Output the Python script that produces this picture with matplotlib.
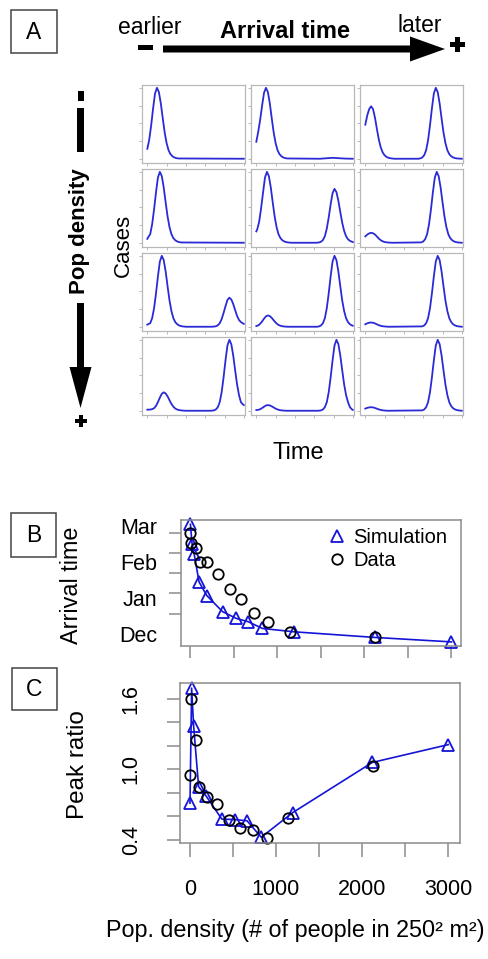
import matplotlib
matplotlib.use('Agg')
import matplotlib.pyplot as plt
from matplotlib.lines import Line2D
from matplotlib.patches import Rectangle, FancyArrow

plt.rcParams['font.family'] = ['Liberation Sans', 'DejaVu Sans']

W, H = 489, 959

# ---- panel A: epidemic curves, time scaled 0-1, cases scaled to tallest peak
# row = population density (low -> high), column = arrival time (early -> late)
t_11 = [0, .02, .04, .06, .08, .10, .12, .14, .16, .18, .20, .22, .24, .26, .28, .30, .32, 1]
c_11 = [.14, .27, .47, .71, .92, 1, .94, .78, .57, .37, .22, .12, .065, .035, .018, .009, .004, 0]

t_12 = [0, .02, .04, .06, .08, .10, .12, .14, .16, .18, .20, .22, .24, .26, .28, .30, .32,
        .66, .72, .79, .86, .93, 1]
c_12 = [.24, .38, .55, .75, .93, 1, .94, .78, .57, .37, .22, .12, .065, .035, .018, .009, .004,
        0, .006, .013, .007, .002, 0]

t_13 = [0, .02, .04, .06, .08, .10, .12, .14, .16, .18, .20, .22, .24, .26, .28, .30, .55,
        .57, .59, .61, .63, .65, .67, .69, .71, .73, .75, .77, .79, .81, .83, .85, .87, .89,
        .91, .93, .95, 1]
c_13 = [.48, .61, .70, .74, .70, .58, .42, .27, .16, .089, .048, .026, .013, .007, .003, 0, 0,
        .005, .018, .05, .12, .26, .47, .71, .92, 1, .94, .78, .57, .37, .22, .12, .065, .035,
        .018, .009, .004, 0]

t_21 = [0, .01, .03, .05, .07, .09, .11, .13, .15, .17, .19, .21, .23, .25, .27, .29, .31, .33, .35, 1]
c_21 = [.055, .08, .12, .26, .47, .71, .92, 1, .94, .78, .57, .37, .22, .12, .065, .035, .018, .009, .004, 0]

t_22 = [0, .01, .03, .05, .07, .09, .11, .13, .15, .17, .19, .21, .23, .25, .27, .29, .31, .33,
        .36, .62, .65, .67, .69, .71, .73, .75, .77, .79, .81, .83, .85, .87, .89, .91, .93,
        .95, .97, .99, 1]
c_22 = [.16, .19, .30, .49, .71, .92, 1, .94, .78, .57, .37, .22, .12, .065, .035, .018, .009, .004,
        0, 0, .004, .014, .038, .091, .198, .357, .54, .70, .76, .714, .593, .433, .281, .167, .091,
        .049, .027, .014, .01]

t_23 = [0, .025, .045, .065, .085, .105, .125, .145, .165, .185, .205, .225, .25, .28,
        .58, .60, .62, .64, .66, .68, .70, .72, .74, .76, .78, .80, .82, .84, .86, .88, .90,
        .92, .94, .96, 1]
c_23 = [.09, .12, .135, .14, .13, .11, .08, .052, .031, .017, .009, .005, .002, 0,
        .005, .018, .05, .12, .26, .47, .71, .92, 1, .94, .78, .57, .37, .22, .12, .065, .035,
        .018, .009, .004, 0]

t_31 = [0, .03, .05, .07, .09, .11, .13, .15, .17, .19, .21, .23, .25, .27, .29, .31, .33, .35,
        .37, .40, .66, .69, .71, .73, .75, .77, .79, .81, .83, .85, .87, .89, .91, .93, .95,
        .97, .99, 1]
c_31 = [.03, .05, .12, .26, .47, .71, .92, 1, .94, .78, .57, .37, .22, .12, .065, .035, .018, .009,
        .004, 0, 0, .002, .007, .02, .049, .107, .193, .291, .377, .41, .385, .32, .234, .152, .095,
        .065, .048, .04]

t_32 = [0, .02, .04, .06, .08, .10, .12, .14, .16, .18, .20, .22, .24, .26, .28, .30, .33,
        .63, .65, .67, .69, .71, .73, .75, .77, .79, .81, .83, .85, .87, .89, .91, .93, .95,
        .97, .99, 1]
c_32 = [.01, .019, .042, .075, .114, .147, .16, .15, .125, .091, .059, .035, .019, .010, .005, .002, 0,
        0, .005, .018, .05, .12, .26, .47, .71, .92, 1, .94, .78, .57, .37, .22, .12, .065,
        .035, .018, .015]

t_33 = [0, .02, .04, .06, .08, .10, .12, .14, .16, .18, .20, .23, .26,
        .59, .61, .63, .65, .67, .69, .71, .73, .75, .77, .79, .81, .83, .85, .87, .89, .91,
        .93, .95, .97, 1]
c_33 = [.035, .048, .057, .06, .056, .047, .034, .022, .013, .007, .004, .001, 0,
        .005, .018, .05, .12, .26, .47, .71, .92, 1, .94, .78, .57, .37, .22, .12, .065, .035,
        .018, .009, .004, 0]

t_41 = [0, .03, .05, .07, .09, .11, .13, .15, .17, .19, .21, .23, .25, .27, .29, .31, .33, .35,
        .37, .40, .66, .69, .71, .73, .75, .77, .79, .81, .83, .85, .87, .89, .91, .93, .95,
        .97, .99, 1]
c_41 = [.015, .017, .022, .036, .068, .122, .185, .239, .26, .244, .203, .148, .096, .057, .031, .017, .009, .005,
        .002, 0, 0, .005, .018, .05, .12, .26, .47, .71, .92, 1, .94, .78, .57, .37, .22,
        .12, .09, .08]

t_42 = [0, .02, .04, .06, .08, .10, .12, .14, .16, .18, .20, .22, .24, .26, .28, .31,
        .64, .67, .69, .71, .73, .75, .77, .79, .81, .83, .85, .87, .89, .91, .93, .95, .97,
        .99, 1]
c_42 = [.01, .013, .021, .038, .057, .074, .08, .075, .062, .046, .03, .018, .01, .005, .003, 0,
        0, .005, .018, .05, .12, .26, .47, .71, .92, 1, .94, .78, .57, .37, .22, .12, .05,
        .02, .012]

t_43 = [0, .02, .04, .06, .08, .10, .12, .14, .16, .18, .20, .23,
        .59, .61, .63, .65, .67, .69, .71, .73, .75, .77, .79, .81, .83, .85, .87, .89, .91,
        .93, .95, .97, 1]
c_43 = [.03, .041, .047, .05, .047, .039, .029, .019, .011, .006, .003, 0,
        .005, .018, .05, .12, .26, .47, .71, .92, 1, .94, .78, .57, .37, .22, .12, .065, .035,
        .018, .009, .004, 0]

curves = [[(t_11, c_11), (t_12, c_12), (t_13, c_13)],
          [(t_21, c_21), (t_22, c_22), (t_23, c_23)],
          [(t_31, c_31), (t_32, c_32), (t_33, c_33)],
          [(t_41, c_41), (t_42, c_42), (t_43, c_43)]]

# ---- panels B and C: population density (# of people in 250^2 m^2)
sim_density = [3, 22, 45, 103, 191, 372, 530, 665, 830, 1195, 2118, 3000]
sim_arrival = [3.06, 2.52, 2.24, 1.445, 1.07, 0.62, 0.43, 0.34, 0.15, 0.056, -0.10, -0.225]  # months after Dec
sim_peak = [0.71, 1.69, 1.37, 0.85, 0.77, 0.575, 0.57, 0.56, 0.42, 0.63, 1.057, 1.209]

data_density = [0, 15, 70, 112, 195, 320, 452, 587, 733, 893, 1142, 2123]
data_arrival = [2.82, 2.55, 2.41, 2.02, 2.02, 1.67, 1.24, 0.97, 0.58, 0.33, 0.065, -0.095]
data_peak = [0.951, 1.6, 1.246, 0.851, 0.766, 0.703, 0.571, 0.503, 0.486, 0.417, 0.58, 1.023]

month_pos = [0, 1, 2, 3]
month_labels = ['Dec', 'Jan', 'Feb', 'Mar']
arrival_ticks = [0.0, 0.563, 1.127, 1.69, 2.254, 2.817]
density_ticks = [0, 500, 1000, 1500, 2000, 2500, 3000]
density_labels = ['0', '', '1000', '', '2000', '', '3000']
peak_ticks = [0.4, 0.6, 0.8, 1.0, 1.2, 1.4, 1.6]
peak_labels = ['0.4', '', '', '1.0', '', '', '1.6']

BLUE = '#1414d8'
CURVE = '#2a2ad6'
GREY = '#8c8c8c'


def px_axes(fig, left, top, right, bottom):
    return fig.add_axes([left / W, 1 - bottom / H, (right - left) / W, (bottom - top) / H])


def px_text(fig, x, y, s, **kw):
    fig.text(x / W, 1 - y / H, s, ha='center', va='center', **kw)


fig = plt.figure(figsize=(W / 100, H / 100), dpi=100)

# overlay in pixel units for arrows and label boxes
ov = fig.add_axes([0, 0, 1, 1])
ov.set_xlim(0, W)
ov.set_ylim(H, 0)
ov.axis('off')

# arrival time arrow
ov.add_patch(FancyArrow(163, 49, 282, 0, width=7, head_width=25, head_length=35,
                        length_includes_head=True, color='black', lw=0))
ov.add_patch(Rectangle((138, 44.5), 15, 5.5, color='black', lw=0))
ov.add_patch(Rectangle((450, 41.5), 15, 5, color='black', lw=0))
ov.add_patch(Rectangle((455, 36.5), 5, 15, color='black', lw=0))

# pop density arrow
ov.add_patch(Rectangle((77.5, 91), 6, 10, color='black', lw=0))
ov.add_patch(Rectangle((77, 108), 7, 44, color='black', lw=0))
ov.add_patch(FancyArrow(80.5, 303, 0, 105, width=7, head_width=22, head_length=41,
                        length_includes_head=True, color='black', lw=0))
ov.add_patch(Rectangle((75, 419), 12, 4, color='black', lw=0))
ov.add_patch(Rectangle((79, 415), 4, 12, color='black', lw=0))

# panel letter boxes
for letter, (x0, y0, bw, bh) in zip('ABC', [(11, 10, 46, 43), (11, 513, 45, 44), (12, 668, 45, 42)]):
    ov.add_patch(Rectangle((x0, y0), bw, bh, fill=False, ec='#444444', lw=1.1))
    ov.text(x0 + bw / 2, y0 + bh / 2 + 1, letter, ha='center', va='center', fontsize=16.5)

px_text(fig, 150, 27, 'earlier', fontsize=16.5)
px_text(fig, 420, 25, 'later', fontsize=16.5)
px_text(fig, 285, 32, 'Arrival time', fontsize=17, fontweight='bold')
px_text(fig, 80, 231, 'Pop density', fontsize=16, fontweight='bold', rotation=90)
px_text(fig, 123, 245, 'Cases', fontsize=16, rotation=90)
px_text(fig, 298, 453, 'Time', fontsize=17)

# ---- panel A grid
col_left = [142, 251, 360]
row_top = [85, 169, 253, 337]
for i in range(4):
    for j in range(3):
        t, c = curves[i][j]
        ax = px_axes(fig, col_left[j], row_top[i], col_left[j] + 103, row_top[i] + 78)
        ax.plot(t, c, color=CURVE, lw=1.3)
        ax.set_xlim(-0.055, 1.012)
        ax.set_ylim(-0.06, 1.04)
        ax.set_xticks([0, 0.2, 0.4, 0.6, 0.8, 1.0])
        ax.set_yticks([0, 0.25, 0.5, 0.75, 1.0])
        ax.tick_params(length=2, width=0.6, color='#b0b0b0',
                       labelbottom=False, labelleft=False)
        for s in ax.spines.values():
            s.set_color('#b8b8b8')
            s.set_linewidth(0.9)


def style_box(ax):
    for s in ax.spines.values():
        s.set_color(GREY)
        s.set_linewidth(1.1)


# ---- panel B
axB = px_axes(fig, 181, 520, 461, 646)
axB.plot(sim_density, sim_arrival, color=BLUE, lw=1.2, marker='^', ms=9, mfc='none',
         mec=BLUE, mew=1.3, clip_on=False)
axB.plot(data_density, data_arrival, ls='none', marker='o', ms=7.5, mfc='none',
         mec='black', mew=1.3, clip_on=False)
axB.set_xlim(-105, 3110)
axB.set_ylim(-0.34, 3.18)
axB.set_xticks(density_ticks)
axB.set_xticklabels([])
axB.set_yticks(month_pos)
axB.set_yticklabels(month_labels, fontsize=15.5)
axB.set_yticks(arrival_ticks, minor=True)
axB.tick_params(axis='y', which='major', length=0, pad=17)
axB.tick_params(axis='y', which='minor', length=8.5, width=1.1, color=GREY)
axB.tick_params(axis='x', length=8.5, width=1.1, color=GREY)
style_box(axB)
handles = [Line2D([], [], ls='none', marker='^', ms=9, mfc='none', mec=BLUE, mew=1.3),
           Line2D([], [], ls='none', marker='o', ms=7.5, mfc='none', mec='black', mew=1.3)]
axB.legend(handles, ['Simulation', 'Data'], frameon=False, loc='upper left',
           bbox_to_anchor=(0.521, 0.94), fontsize=14.5, handlelength=1.0,
           handletextpad=0.3, labelspacing=0.2, borderpad=0, borderaxespad=0)
px_text(fig, 72, 585, 'Arrival time', fontsize=16.8, rotation=90)

# ---- panel C
axC = px_axes(fig, 180, 683, 460, 843)
axC.plot(sim_density, sim_peak, color=BLUE, lw=1.2, marker='^', ms=9, mfc='none',
         mec=BLUE, mew=1.3, clip_on=False)
axC.plot(data_density, data_peak, ls='none', marker='o', ms=7.5, mfc='none',
         mec='black', mew=1.3, clip_on=False)
axC.set_xlim(-113, 3136)
axC.set_ylim(0.371, 1.734)
axC.set_xticks(density_ticks)
axC.set_xticklabels(density_labels, fontsize=15.5)
axC.set_yticks(peak_ticks)
axC.set_yticklabels(peak_labels, fontsize=15.5, rotation=90, va='center')
axC.tick_params(axis='x', length=10, width=1.1, color=GREY, pad=16)
axC.tick_params(axis='y', length=9.5, width=1.1, color=GREY, pad=18)
style_box(axC)
px_text(fig, 78, 765, 'Peak ratio', fontsize=17.5, rotation=90)

px_text(fig, 295, 930, 'Pop. density (# of people in 250² m²)', fontsize=16.8)

fig.savefig('out.png', dpi=100)
